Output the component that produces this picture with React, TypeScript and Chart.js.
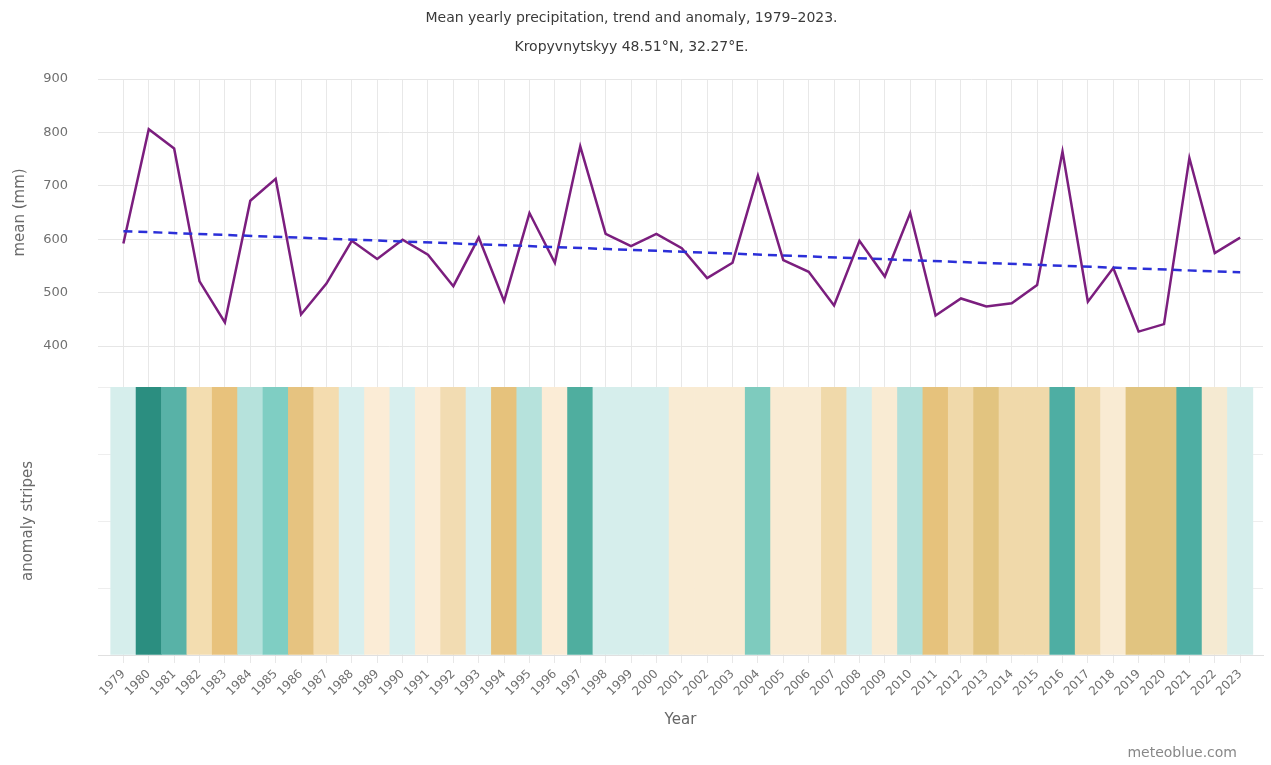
import React, { useEffect, useRef } from 'react';
import { Chart, registerables } from 'chart.js';

Chart.register(...registerables);

const years = [
  1979, 1980, 1981, 1982, 1983, 1984, 1985, 1986, 1987, 1988,
  1989, 1990, 1991, 1992, 1993, 1994, 1995, 1996, 1997, 1998,
  1999, 2000, 2001, 2002, 2003, 2004, 2005, 2006, 2007, 2008,
  2009, 2010, 2011, 2012, 2013, 2014, 2015, 2016, 2017, 2018,
  2019, 2020, 2021, 2022, 2023,
];

const precipitation = [
  592, 806, 770, 521, 444, 672, 713, 459, 517, 597,
  563, 599, 571, 512, 603, 484, 649, 556, 774, 610,
  587, 610, 583, 527, 556, 719, 561, 539, 476, 597,
  530, 649, 457, 489, 474, 480, 514, 764, 483, 546,
  427, 441, 752, 574, 603,
];

const trendYears = [1979, 2023];
const trendValues = [615, 538];

const stripeColors = [
  '#d6eeec', '#2b8e80', '#58b2a7', '#f3ddb0', '#e8c27c', '#b6e2dc', '#7fcec3', '#e6c380', '#f4dcaf', '#d8efee',
  '#fbecd6', '#d8efee', '#fbecd6', '#f2dcb2', '#d8efee', '#e6c27c', '#b6e2dc', '#fbecd6', '#4fae9f', '#d6eeec',
  '#d6eeec', '#d6eeec', '#f9ebd3', '#f9ebd3', '#f9ebd3', '#7ecbbe', '#f9ebd3', '#f9ebd3', '#f0d9aa', '#d6eeec',
  '#f9ebd3', '#b3e0da', '#e6c27c', '#f0d9aa', '#e2c480', '#f0d9aa', '#f0d9aa', '#4eaea3', '#f0d9aa', '#f9ebd3',
  '#e1c480', '#e1c480', '#4eaea3', '#f5ead2', '#d6eeec',
];

const meanTicks = [400, 500, 600, 700, 800, 900];
const stripeTicks = [0, 0.25, 0.5, 0.75, 1];

const titleLines = [
  'Mean yearly precipitation, trend and anomaly, 1979\u20132023.',
  'Kropyvnytskyy 48.51\u00b0N, 32.27\u00b0E.',
];

const FONT = "'DejaVu Sans', sans-serif";

export default function App() {
  const canvasRef = useRef<HTMLCanvasElement | null>(null);

  useEffect(() => {
    const canvas = canvasRef.current;
    if (!canvas) return;
    const chart = new Chart(canvas, {
      data: {
        datasets: [
          {
            type: 'line',
            label: 'trend',
            data: trendYears.map((x, i) => ({ x, y: trendValues[i] })),
            yAxisID: 'y',
            borderColor: '#2b2fd8',
            borderWidth: 2.5,
            borderDash: [9, 6],
            pointRadius: 0,
            order: 0,
          },
          {
            type: 'line',
            label: 'mean',
            data: years.map((x, i) => ({ x, y: precipitation[i] })),
            yAxisID: 'y',
            borderColor: '#7b1e7e',
            borderWidth: 2.5,
            pointRadius: 0,
            tension: 0,
            order: 1,
          },
          {
            type: 'bar',
            label: 'anomaly',
            data: years.map((x) => ({ x, y: 1 })),
            yAxisID: 'yS',
            backgroundColor: stripeColors,
            borderWidth: 0,
            barPercentage: 1,
            categoryPercentage: 1,
            order: 2,
          },
        ],
      } as any,
      options: {
        responsive: true,
        maintainAspectRatio: false,
        animation: false,
        layout: { padding: { left: 0, right: 8, top: 0, bottom: 0 } },
        plugins: {
          legend: { display: false },
          tooltip: { enabled: false },
          title: {
            display: true,
            text: titleLines,
            color: '#3a3a3a',
            font: { family: FONT, size: 14, weight: 'normal', lineHeight: 29 / 14 },
            padding: { top: 3.5, bottom: 17.5 },
          },
        },
        scales: {
          x: {
            type: 'linear',
            min: 1978,
            max: 2023.9,
            offset: false,
            afterBuildTicks: (axis: any) => {
              axis.ticks = years.map((v) => ({ value: v }));
            },
            afterFit: (axis: any) => {
              axis.height = 110;
            },
            ticks: {
              autoSkip: false,
              maxRotation: 45,
              minRotation: 45,
              color: '#707070',
              padding: 4,
              font: { family: FONT, size: 12 },
              callback: (v: any) => String(v),
            },
            grid: { color: '#e8e8e8', tickLength: 8, drawTicks: true, offset: false },
            border: { color: '#e0e0e0' },
            title: {
              display: true,
              text: 'Year',
              color: '#666',
              font: { family: FONT, size: 15 },
              padding: { top: 0, bottom: 36 },
            },
          },
          yS: {
            type: 'linear',
            position: 'left',
            stack: 'panels',
            stackWeight: 268,
            min: 0,
            max: 1,
            afterBuildTicks: (axis: any) => {
              axis.ticks = stripeTicks.map((v) => ({ value: v }));
            },
            afterFit: (axis: any) => {
              axis.width = 98;
            },
            ticks: { display: false },
            grid: { color: '#eeeeee', drawTicks: false },
            border: { display: false },
            title: {
              display: true,
              text: 'anomaly stripes',
              color: '#6a6a6a',
              font: { family: FONT, size: 15 },
              padding: { top: 19 },
            },
          },
          yGap: {
            type: 'linear',
            position: 'left',
            stack: 'panels',
            stackWeight: 41,
            min: 0,
            max: 1,
            display: false,
          },
          y: {
            type: 'linear',
            position: 'left',
            stack: 'panels',
            stackWeight: 267,
            min: 400,
            max: 900,
            afterBuildTicks: (axis: any) => {
              axis.ticks = meanTicks.map((v) => ({ value: v }));
            },
            afterFit: (axis: any) => {
              axis.width = 98;
            },
            ticks: { color: '#707070', padding: 30, font: { family: FONT, size: 13 } },
            grid: { color: '#e6e6e6', drawTicks: false },
            border: { display: false },
            title: {
              display: true,
              text: 'mean (mm)',
              color: '#6a6a6a',
              font: { family: FONT, size: 15 },
              padding: { top: 11 },
            },
          },
        },
      } as any,
    });
    return () => chart.destroy();
  }, []);

  return (
    <div style={{ position: 'fixed', left: 0, top: 0, width: 1271, height: 765, background: '#fff' }}>
      <canvas ref={canvasRef} />
      <div
        style={{
          position: 'absolute',
          right: 34,
          top: 743,
          fontFamily: FONT,
          fontSize: 14,
          color: '#888',
          lineHeight: '18px',
        }}
      >
        meteoblue.com
      </div>
    </div>
  );
}
